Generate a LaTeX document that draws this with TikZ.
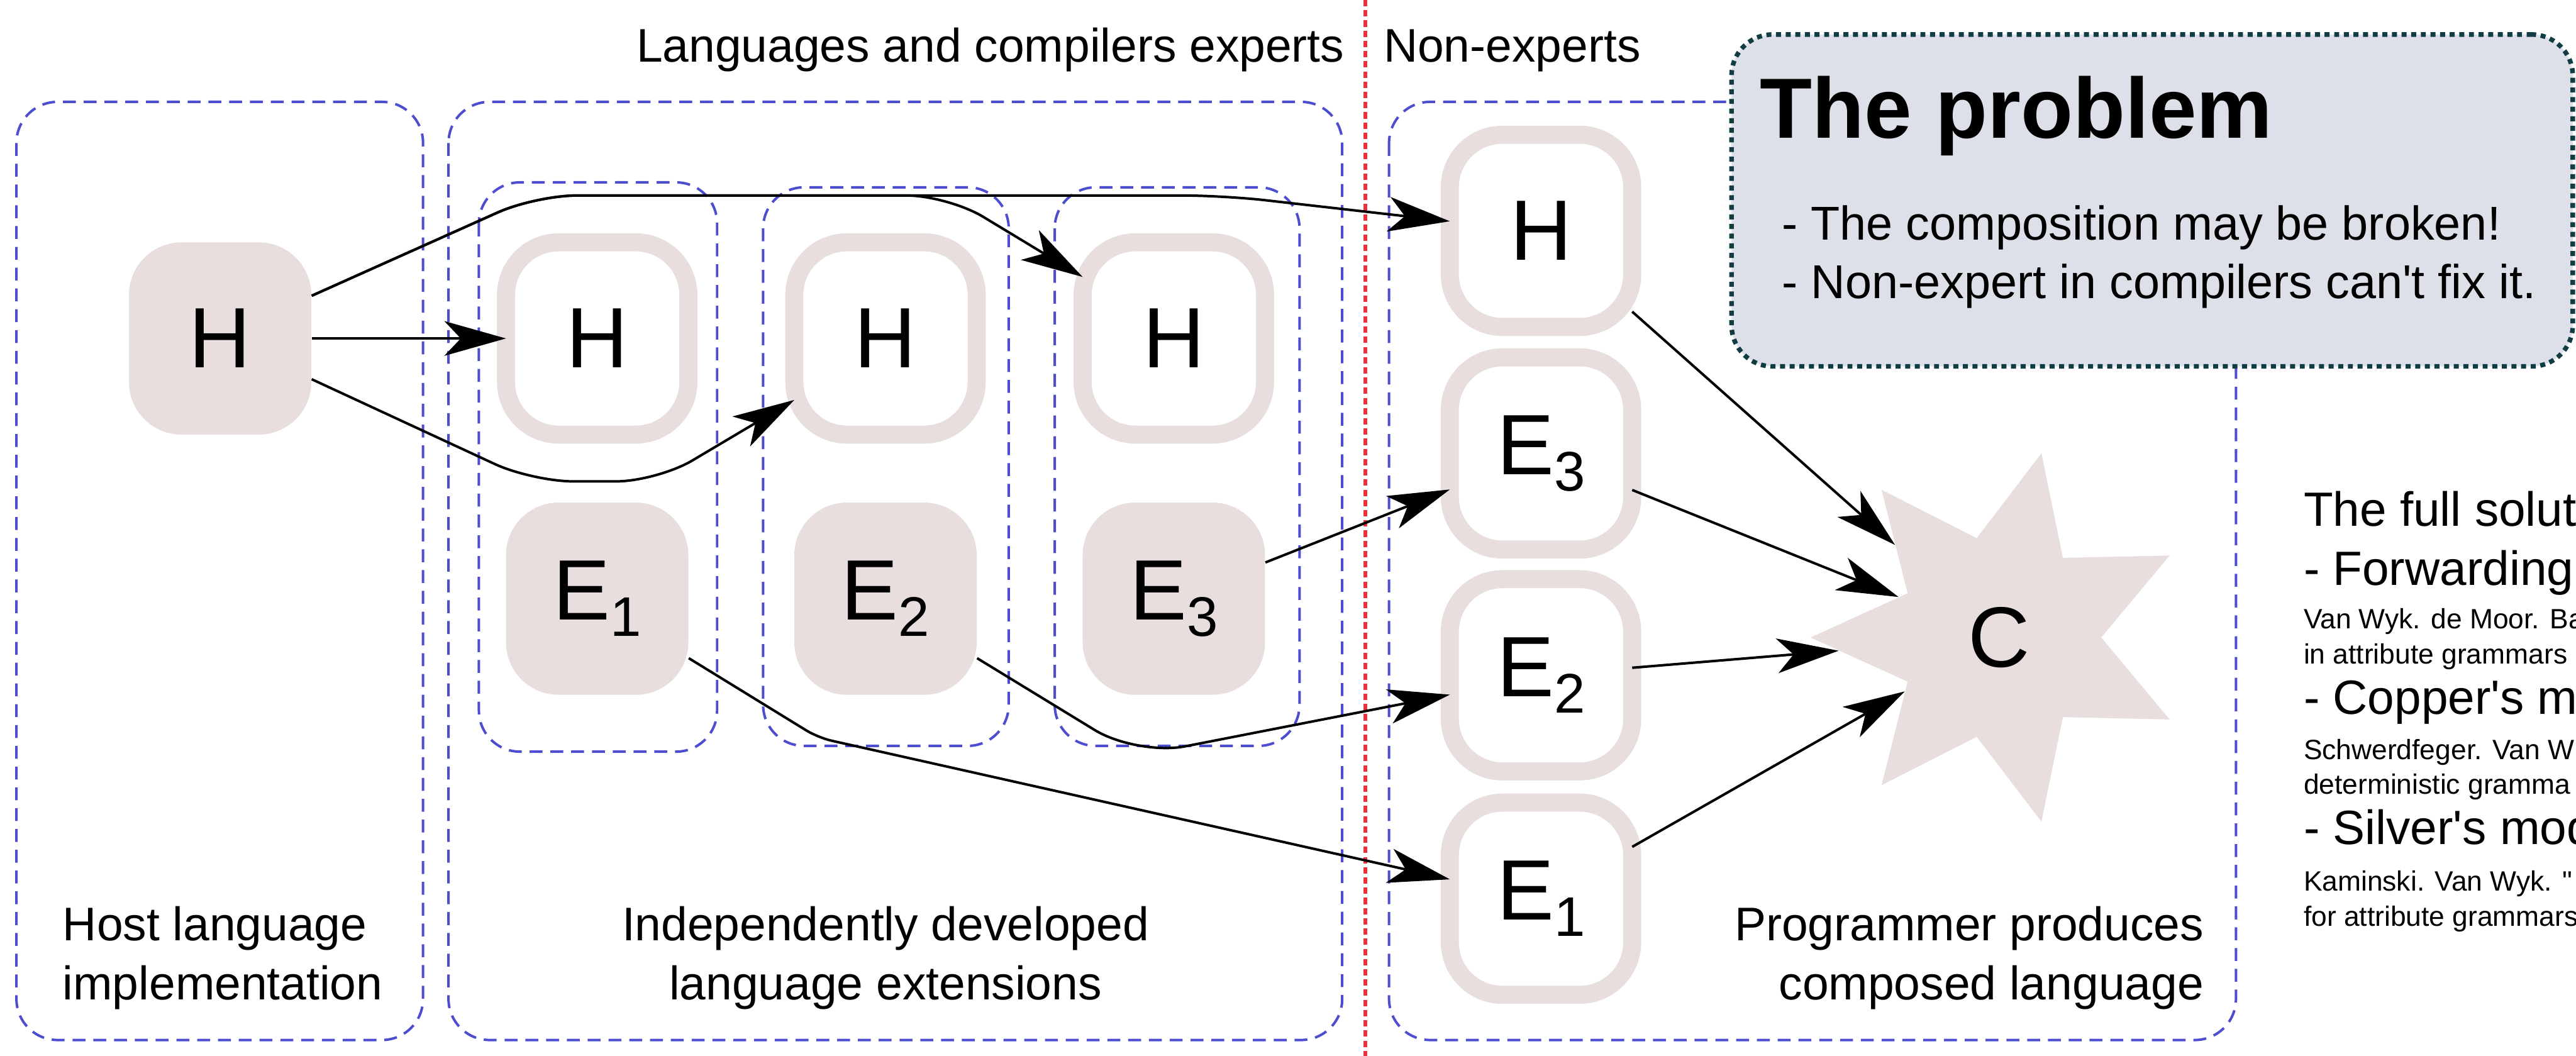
\documentclass[tikz,border=0pt]{standalone}
\usepackage{fontspec}
\setmainfont{Liberation Sans}[Ligatures=TeXOff]
\usetikzlibrary{arrows.meta,shapes.geometric}
\definecolor{nodefill}{HTML}{E8DEDE}
\definecolor{boxblue}{HTML}{4D4DCF}
\definecolor{sepred}{HTML}{E8323C}
\definecolor{probfill}{HTML}{DDE0E9}
\definecolor{probline}{HTML}{123C44}
\newcommand\esub[1]{\raisebox{-8.5pt}{\fontsize{29pt}{30pt}\selectfont #1}}
\tikzset{
  lbl/.style={inner sep=0pt, font=\fontsize{24.5pt}{29pt}\selectfont},
  grp/.style={draw=boxblue, line width=1.3pt, dash pattern=on 6.7pt off 4.1pt, rounded corners=0.75cm},
  filled/.style={fill=nodefill, rounded corners=0.96cm, minimum width=3.33cm, minimum height=3.51cm, inner sep=0pt, font=\fontsize{44.5pt}{50pt}\selectfont},
  ringnode/.style={draw=nodefill, line width=9.39pt, outer sep=0pt, rounded corners=0.96cm, minimum width=3.33cm, minimum height=3.51cm, inner sep=0pt, font=\fontsize{44.5pt}{50pt}\selectfont},
  conn/.style={draw=black, line width=1.3pt, -{Stealth[length=32pt, width=18pt, inset=8.5pt]}},
  bigsol/.style={anchor=base west, inner sep=0pt, font=\fontsize{25pt}{30pt}\selectfont},
  smallsol/.style={anchor=base west, inner sep=0pt, font=\fontsize{14.5pt}{17pt}\selectfont},
}
\begin{document}
\begin{tikzpicture}[x=0.03cm, y=-0.03cm]
\useasboundingbox (0,0) rectangle (1568,642.6);

% group boxes
\draw[grp] (10,62) rectangle (257.5,633);
\draw[grp] (273,62) rectangle (817,633);
\draw[grp] (845.5,62) rectangle (1361,633);
\draw[grp] (291.5,111) rectangle (436.5,457.5);
\draw[grp] (464.5,114) rectangle (614,454);
\draw[grp] (642,114) rectangle (791,454);

% separator
\coordinate (sepTop) at (831,0);
\coordinate (sepBot) at (831,642.6);
\draw[sepred, line width=1.9pt, dash pattern=on 3.3pt off 2pt] (sepTop) -- (sepBot);

% top labels
\node[lbl, anchor=base east] (expL) at (818.5,37.7) {Languages and compilers experts};
\node[lbl, anchor=base west] (nonL) at (842,37.7) {Non-experts};

% nodes
\node[filled] (Lh) at (134,206) {H};
\node[ringnode] (E1h) at (363.5,206) {H};
\node[ringnode] (E2h) at (539,206) {H};
\node[ringnode] (E3h) at (714.5,206) {H};
\node[filled] (E1) at (363.5,364.4) {E\esub{1}};
\node[filled] (E2) at (539,364.4) {E\esub{2}};
\node[filled] (E3) at (714.5,364.4) {E\esub{3}};
\node[ringnode] (NH) at (938,140.5) {H};
\node[ringnode] (NE3) at (938,276) {E\esub{3}};
\node[ringnode] (NE2) at (938,411) {E\esub{2}};
\node[ringnode] (NE1) at (938,547) {E\esub{1}};
\node[star, star points=7, star point ratio=1.855, shape border rotate=-12.857,
      minimum size=6.9cm, inner sep=0pt, fill=nodefill,
      font=\fontsize{44.5pt}{50pt}\selectfont] (C) at (1217,388) {C};

% connectors
\draw[conn] (Lh) -- (E1h);
\draw[conn, rounded corners=0.75cm] (Lh.-24) -- (324,293) -- (400,293) -- (E2h.214);
\draw[conn, rounded corners=0.75cm] (Lh.25) -- (326,119) -- (577,119) -- (E3h.146);
\draw[conn, rounded corners=0.75cm] (Lh.25) -- (326,119) -- (745,119) -- (NH.174);
\draw[conn, rounded corners=0.25cm] (E1.-33) -- (498,449) -- (NE1.168);
\draw[conn, rounded corners=0.9cm] (E2.-33) -- (692,460) -- (NE2.192);
\draw[conn] (E3) -- (NE3);
\draw[conn] (NH) -- (C);
\draw[conn] (NE3) -- (C);
\draw[conn] (NE2) -- (C);
\draw[conn] (NE1) -- (C);

% bottom labels
\node[lbl, anchor=base west] (hostA) at (38,572.4) {Host language};
\node[lbl, anchor=base west] (hostB) at (38,608.6) {implementation};
\node[lbl, anchor=base] (extA) at (539,572.4) {Independently developed};
\node[lbl, anchor=base] (extB) at (539,608.6) {language extensions};
\node[lbl, anchor=base east] (progA) at (1341.6,572.4) {Programmer produces};
\node[lbl, anchor=base east] (progB) at (1341.6,608.6) {composed language};

% problem box
\node[draw=probline, fill=probfill, line width=2.4pt, dash pattern=on 2.6pt off 2.4pt,
      rounded corners=0.75cm, minimum width=15.36cm, minimum height=6.06cm, inner sep=0pt] (prob) at (1310,122) {};
\node[anchor=base west, inner sep=0pt, font=\bfseries\fontsize{44.4pt}{50pt}\selectfont] (probT) at (1071,84.2) {The problem};
\node[anchor=base west, inner sep=0pt, font=\fontsize{24.7pt}{30pt}\selectfont] (probA) at (1084.4,146) {- The composition may be broken!};
\node[anchor=base west, inner sep=0pt, font=\fontsize{24.7pt}{30pt}\selectfont] (probB) at (1084.4,181.7) {- Non-expert in compilers can't fix it.};

% solution text (cut at the right edge)
\node[bigsol] (solT) at (1402,320.2) {The full soluti};
\node[bigsol] (solF) at (1402,356.1) {- Forwarding};
\node[smallsol] (solF1) at (1402,382.6) {Van Wyk. de Moor. Ba};
\node[smallsol] (solF2) at (1402,403.9) {in attribute grammars};
\node[bigsol] (solC) at (1402,434.6) {- Copper's mo};
\node[smallsol] (solC1) at (1402,462.4) {Schwerdfeger. Van W};
\node[smallsol] (solC2) at (1402,483.4) {deterministic gramma};
\node[bigsol] (solS) at (1402,513.8) {- Silver's mod};
\node[smallsol] (solS1) at (1402,542.4) {Kaminski. Van Wyk. "};
\node[smallsol] (solS2) at (1402,563.7) {for attribute grammars};
\end{tikzpicture}
\end{document}
